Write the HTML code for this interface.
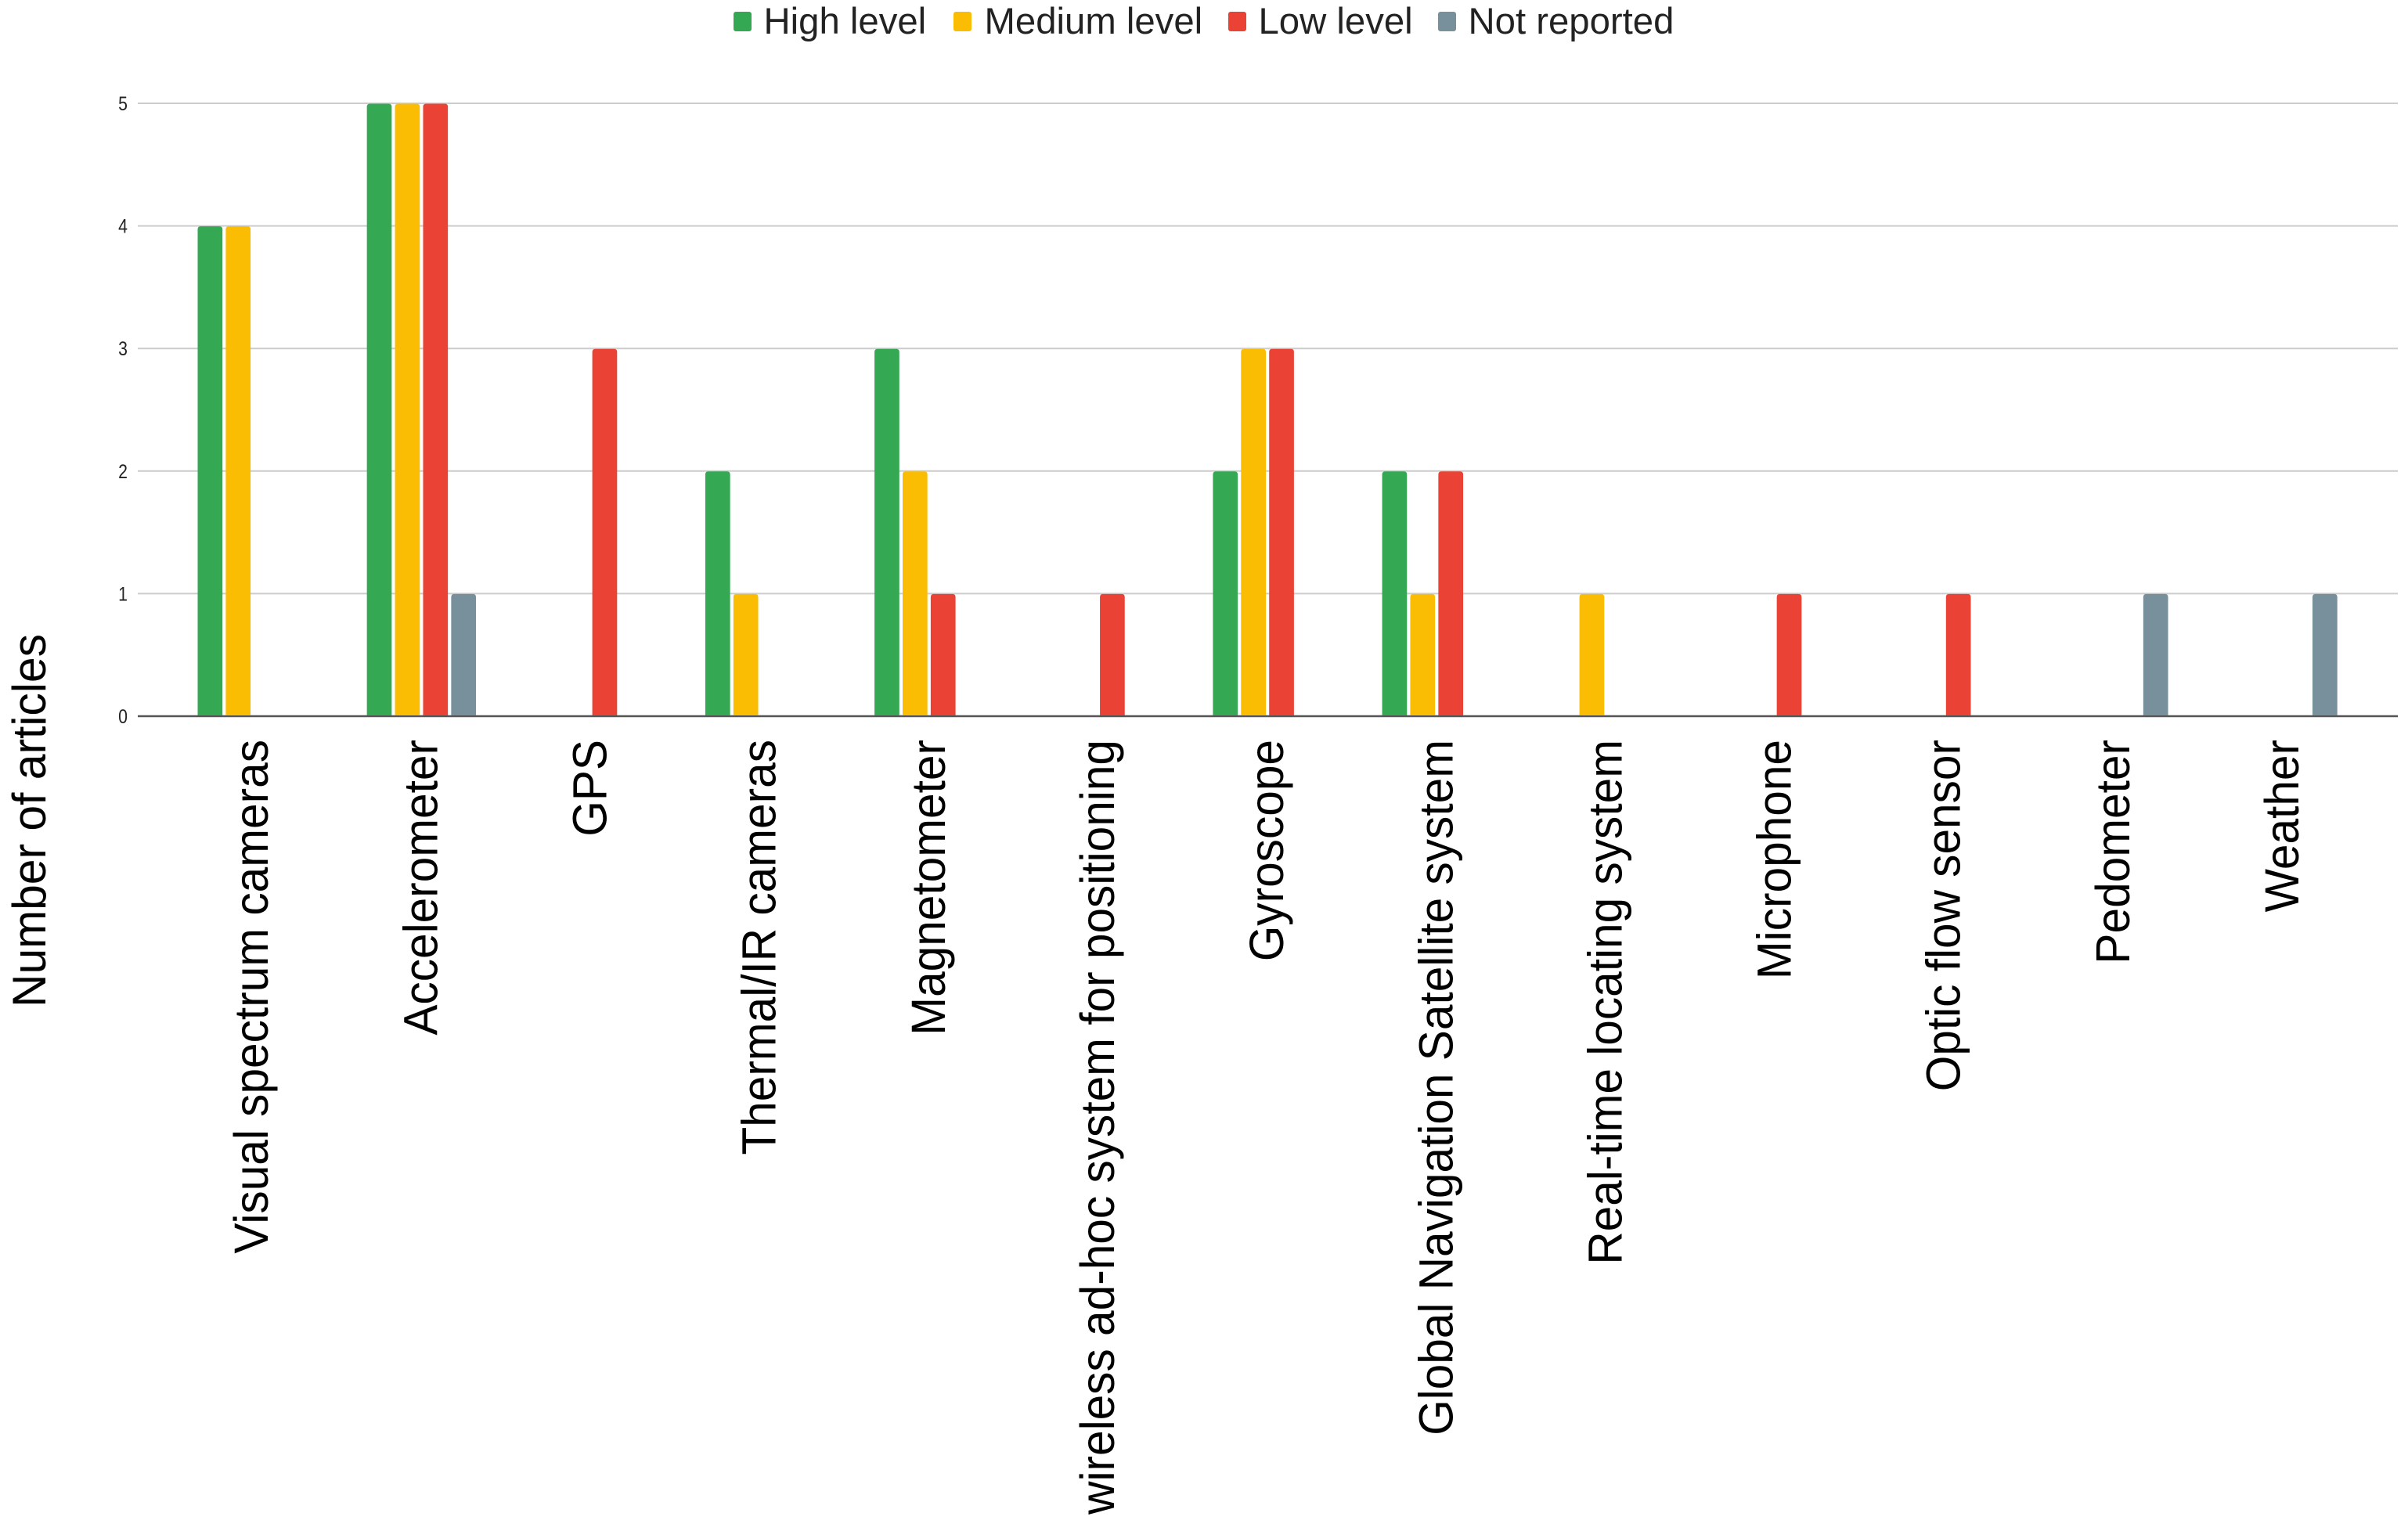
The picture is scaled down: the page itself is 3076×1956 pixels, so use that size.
<!DOCTYPE html>
<html lang="en">
<head>
<meta charset="utf-8">
<title>Number of articles by sensor type and level</title>
<style>
html,body{margin:0;padding:0;background:#fff;}
#chart{display:block;width:3076px;height:1956px;font-family:"Liberation Sans",Arial,sans-serif;}
</style>
</head>
<body>
<svg id="chart" xmlns="http://www.w3.org/2000/svg" width="3076" height="1956" viewBox="0 0 3076 1956">
  <rect x="0" y="0" width="3076" height="1956" fill="#ffffff"/>
  <g id="grid"></g>
  <g id="bars"></g>
  <g id="yticks"></g>
  <g id="xlabels"></g>
  <text transform="translate(58 1287) rotate(-90) scale(1 1.03)" font-size="58.8" fill="#000">Number of articles</text>
  <g>
    <g>
      <rect x="937" y="15" width="23" height="25" rx="3" fill="#34a853"/>
      <text x="975.5" y="43" font-size="47.3" fill="#222">High level</text>
    </g>
    <g>
      <rect x="1218" y="15" width="23" height="25" rx="3" fill="#fbbc04"/>
      <text x="1257.5" y="43" font-size="47.3" fill="#222">Medium level</text>
    </g>
    <g>
      <rect x="1569" y="15" width="23" height="25" rx="3" fill="#ea4335"/>
      <text x="1607.5" y="43" font-size="47.3" fill="#222">Low level</text>
    </g>
    <g>
      <rect x="1837" y="15" width="23" height="25" rx="3" fill="#78909c"/>
      <text x="1875.5" y="43" font-size="47.3" fill="#222">Not reported</text>
    </g>
  </g>
</svg>
<script>
const categories = ["Visual spectrum cameras","Accelerometer","GPS","Thermal/IR cameras","Magnetometer","wireless ad-hoc system for positioning","Gyroscope","Global Navigation Satellite system","Real-time locating system","Microphone","Optic flow sensor","Pedometer","Weather"];
const highLevel = [4,5,0,2,3,0,2,2,0,0,0,0,0];
const mediumLevel = [4,5,0,1,2,0,3,1,1,0,0,0,0];
const lowLevel = [0,5,3,0,1,1,3,2,0,1,1,0,0];
const notReported = [0,1,0,0,0,0,0,0,0,0,0,1,1];
const yTickLabels = [0,1,2,3,4,5];

const seriesValues = [highLevel, mediumLevel, lowLevel, notReported];
const seriesNames = ["high-level","medium-level","low-level","not-reported"];
const seriesColors = ["#34a853","#fbbc04","#ea4335","#78909c"];

const NS = "http://www.w3.org/2000/svg";
const PLOT_LEFT = 176, PLOT_RIGHT = 3063, BASE_Y = 915, UNIT_Y = 156.6;
const GROUP_START = 252.5, GROUP_STEP = 216.15, BAR_STEP = 35.9, BAR_W = 31.7;

function yScale(v){ return BASE_Y - v * UNIT_Y; }
function xBar(group, series){ return GROUP_START + GROUP_STEP * group + BAR_STEP * series; }
function xLabel(group){ return xBar(group, 0) + 69.7 + 20; }

function barPath(x, y0, y1, w, r){
  const h = y1 - y0;
  const rr = Math.min(r, h);
  return "M" + x + " " + y1 + "V" + (y0 + rr) + "Q" + x + " " + y0 + " " + (x + rr) + " " + y0 +
         "H" + (x + w - rr) + "Q" + (x + w) + " " + y0 + " " + (x + w) + " " + (y0 + rr) + "V" + y1 + "Z";
}

const gridG = document.getElementById("grid");
const ticksG = document.getElementById("yticks");
yTickLabels.forEach(function(t){
  const y = yScale(t);
  const line = document.createElementNS(NS, "line");
  
  
  line.setAttribute("x1", PLOT_LEFT);
  line.setAttribute("x2", PLOT_RIGHT);
  line.setAttribute("y1", y);
  line.setAttribute("y2", y);
  line.setAttribute("stroke", t === 0 ? "#555555" : "#cccccc");
  line.setAttribute("stroke-width", t === 0 ? 2.5 : 2);
  gridG.appendChild(line);

  const label = document.createElementNS(NS, "text");
  
  
  label.setAttribute("transform", "translate(163 " + (y + 9) + ") scale(0.85 1)");
  label.setAttribute("text-anchor", "end");
  label.setAttribute("font-size", 25);
  label.setAttribute("fill", "#222");
  label.textContent = t;
  ticksG.appendChild(label);
});

const barsG = document.getElementById("bars");
seriesValues.forEach(function(values, s){
  values.forEach(function(v, g){
    if (v <= 0) return;
    const bar = document.createElementNS(NS, "path");
    
    
    bar.setAttribute("d", barPath(xBar(g, s), yScale(v) + 0.5, BASE_Y - 1, BAR_W, 4));
    bar.setAttribute("fill", seriesColors[s]);
    barsG.appendChild(bar);
  });
});

const labelsG = document.getElementById("xlabels");
categories.forEach(function(c, g){
  const label = document.createElementNS(NS, "text");
  
  
  label.setAttribute("transform", "translate(" + xLabel(g) + " 945) rotate(-90) scale(1 1.04)");
  label.setAttribute("text-anchor", "end");
  label.setAttribute("font-size", 58.6);
  label.setAttribute("fill", "#000");
  label.textContent = c;
  labelsG.appendChild(label);
});
</script>
</body>
</html>
